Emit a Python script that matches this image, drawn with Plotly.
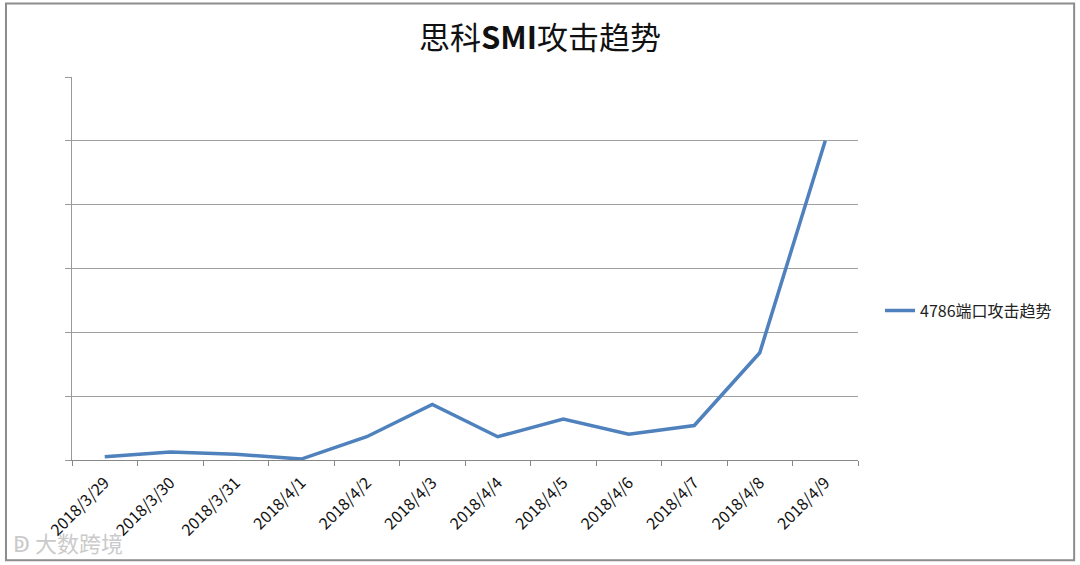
import plotly.graph_objects as go

# Data
dates = ['2018/3/29', '2018/3/30', '2018/3/31', '2018/4/1', '2018/4/2', '2018/4/3',
         '2018/4/4', '2018/4/5', '2018/4/6', '2018/4/7', '2018/4/8', '2018/4/9']
attacks = [50, 125, 90, 15, 365, 870, 365, 640, 405, 540, 1680, 5000]
series_name = '4786端口攻击趋势'
title = '思科<b>SMI</b>攻击趋势'

FONT = 'Noto Sans CJK SC, Open Sans, sans-serif'

fig = go.Figure()
fig.add_trace(go.Scatter(
    x=dates,
    y=attacks,
    mode='lines',
    name=series_name,
    line=dict(color='#4F81BD', width=3.5),
))

fig.update_layout(
    width=1080,
    height=565,
    margin=dict(l=72, r=222, t=77, b=105),
    paper_bgcolor='white',
    plot_bgcolor='white',
    font=dict(family=FONT, color='#222'),
    title=dict(text=title, x=0.5, xref='container', xanchor='center',
               y=1 - 38 / 565, yref='container', yanchor='middle',
               font=dict(size=31, color='#111', family=FONT)),
    showlegend=True,
    legend=dict(x=1.028, y=0.39, xanchor='left', yanchor='middle',
                font=dict(size=16, color='#222'), bgcolor='rgba(0,0,0,0)'),
)

fig.update_xaxes(
    type='category',
    range=[-0.5, len(dates) - 0.5],
    automargin=False,
    tickangle=-45,
    tickson='boundaries',
    ticks='outside',
    ticklen=5,
    tickcolor='#888',
    ticklabelstandoff=6,
    showline=True,
    linecolor='#888',
    showgrid=False,
    tickfont=dict(size=16, color='#111'),
)
fig.update_yaxes(
    range=[0, 6000],
    dtick=1000,
    automargin=False,
    showticklabels=False,
    ticks='outside',
    ticklen=6,
    tickcolor='#999',
    showline=True,
    linecolor='#999',
    gridcolor='#A0A0A0',
    gridwidth=1,
    zeroline=False,
)

# outer chart frame
fig.add_shape(type='rect', xref='paper', yref='paper',
              x0=-0.084, x1=1.275, y0=-0.262, y1=1.192,
              line=dict(color='#8C8C8C', width=2), fillcolor='rgba(0,0,0,0)', layer='below')

# watermark
fig.add_annotation(text='ↁ 大数跨境', xref='paper', yref='paper', x=-0.078, y=-0.215,
                   xanchor='left', yanchor='middle', showarrow=False,
                   font=dict(size=22, color='rgba(195,195,195,0.9)', family=FONT))

# drop the browser's default body margin so the figure sits at the page origin
fig.write_html('out.html', config={'displayModeBar': False},
               post_script="document.body.style.margin='0';")
